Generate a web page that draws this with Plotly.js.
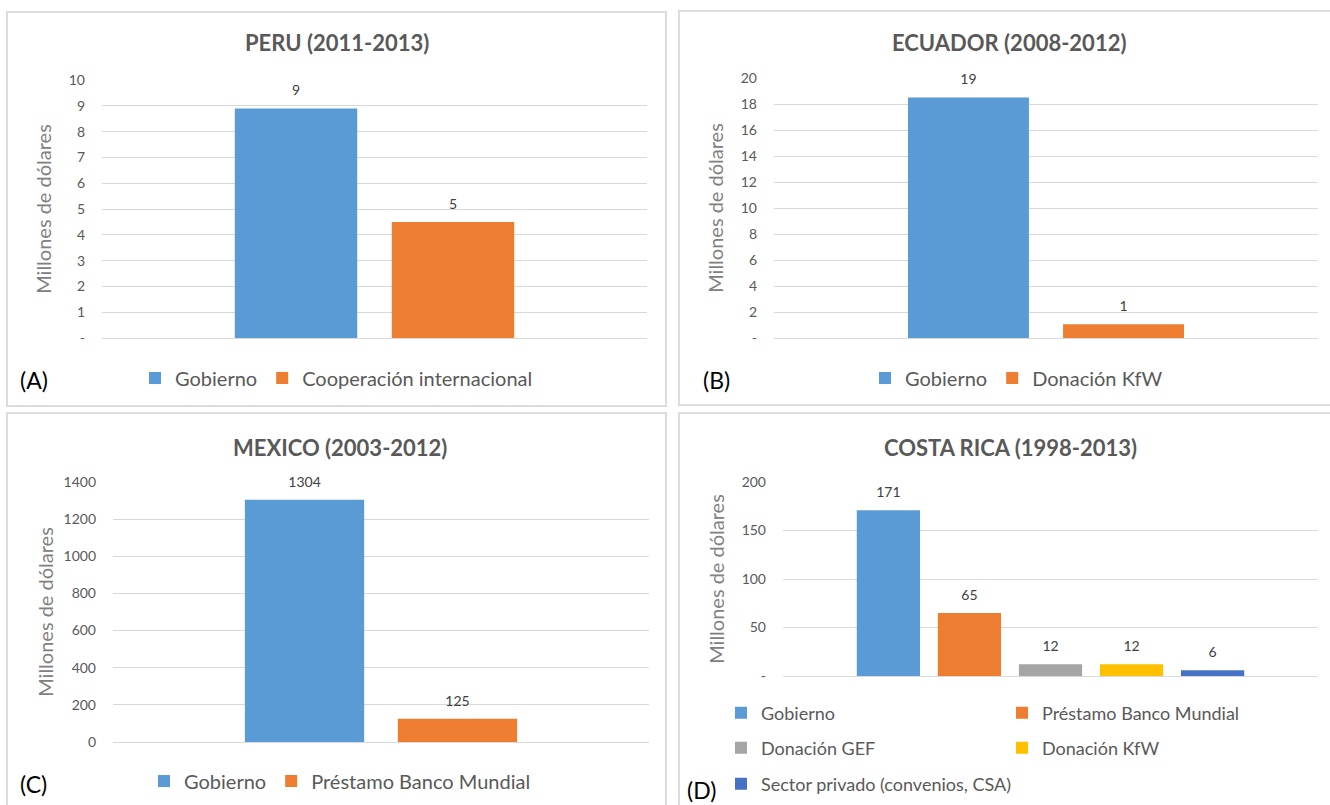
<!DOCTYPE html>
<html>
<head>
<meta charset="utf-8">
<script src="https://cdn.plot.ly/plotly-3.0.1.min.js"></script>
<style>
  html, body { margin: 0; padding: 0; background: #ffffff; }
  #chart { width: 1330px; height: 805px; }
</style>
</head>
<body>
<div id="chart"></div>
<script>
// ---------- DATA ----------
const peruTitle = "PERU (2011-2013)";
const peruSeries = ["Gobierno", "Cooperación internacional"];
const peruValues = [8.9, 4.5];
const peruTickVals = [0, 1, 2, 3, 4, 5, 6, 7, 8, 9, 10];
const peruTickText = ["-", "1", "2", "3", "4", "5", "6", "7", "8", "9", "10"];

const ecuadorTitle = "ECUADOR (2008-2012)";
const ecuadorSeries = ["Gobierno", "Donación KfW"];
const ecuadorValues = [18.5, 1.05];
const ecuadorTickVals = [0, 2, 4, 6, 8, 10, 12, 14, 16, 18, 20];
const ecuadorTickText = ["-", "2", "4", "6", "8", "10", "12", "14", "16", "18", "20"];

const mexicoTitle = "MEXICO (2003-2012)";
const mexicoSeries = ["Gobierno", "Préstamo Banco Mundial"];
const mexicoValues = [1304, 125];
const mexicoTickVals = [0, 200, 400, 600, 800, 1000, 1200, 1400];
const mexicoTickText = ["0", "200", "400", "600", "800", "1000", "1200", "1400"];

const costaTitle = "COSTA RICA (1998-2013)";
const costaSeries = ["Gobierno", "Préstamo Banco Mundial", "Donación GEF", "Donación KfW", "Sector privado (convenios, CSA)"];
const costaValues = [171, 65, 12, 12, 6];
const costaTickVals = [0, 50, 100, 150, 200];
const costaTickText = ["-", "50", "100", "150", "200"];

const panelLetters = ["(A)", "(B)", "(C)", "(D)"];
const yTitle = "Millones de dólares";
const category = [""];

// ---------- STYLE ----------
const W = 1330, H = 805;
const X = p => p / W;
const Y = p => 1 - p / H;
const colors = {
  "Gobierno": "#5B9BD5",
  "Cooperación internacional": "#ED7D31",
  "Donación KfW": "#ED7D31",
  "Préstamo Banco Mundial": "#ED7D31"
};
const costaColors = ["#5B9BD5", "#ED7D31", "#A5A5A5", "#FFC000", "#4472C4"];
const FONT = "Lato, 'Open Sans', sans-serif";

function barTraces(series, values, axisId, legendIds, colorList) {
  return series.map((name, i) => ({
    type: "bar",
    name: name,
    x: category,
    y: [values[i]],
    xaxis: "x" + axisId,
    yaxis: "y" + axisId,
    legend: legendIds[i],
    marker: { color: colorList ? colorList[i] : colors[name] },
    texttemplate: "<span style='font-size:14px'>%{y:.0f}</span><br> ",
    textposition: "outside",
    cliponaxis: false,
    textfont: { family: FONT, size: 7, color: "#404040" },
    hoverinfo: "skip"
  }));
}

const data = [].concat(
  barTraces(peruSeries, peruValues, "", ["legend", "legend"]),
  barTraces(ecuadorSeries, ecuadorValues, "2", ["legend2", "legend2"]),
  barTraces(mexicoSeries, mexicoValues, "3", ["legend3", "legend3"]),
  barTraces(costaSeries, costaValues, "4", ["legend4", "legend5", "legend6", "legend7", "legend8"], costaColors)
);

function xAx(domain, half, anchor) {
  return {
    domain: domain, range: [-half, half], type: "category", anchor: anchor,
    showticklabels: false, showgrid: false, zeroline: false, showline: false,
    fixedrange: true
  };
}
function yAx(domain, range, vals, text, anchor, standoff) {
  return {
    domain: domain, range: range, tickmode: "array", tickvals: vals, ticktext: text,
    anchor: anchor,
    showgrid: true, gridcolor: "#D9D9D9", gridwidth: 1,
    zeroline: true, zerolinecolor: "#D9D9D9", zerolinewidth: 1,
    showline: false, ticks: "",
    ticklabelstandoff: 16,
    tickfont: { family: FONT, size: 14, color: "#595959" },
    title: { text: yTitle, font: { family: FONT, size: 20, color: "#808080" }, standoff: standoff },
    fixedrange: true
  };
}
function leg(xp, yp, size) {
  return {
    x: X(xp), y: Y(yp), xanchor: "left", yanchor: "middle",
    orientation: "h", bgcolor: "rgba(0,0,0,0)", borderwidth: 0,
    font: { family: FONT, size: size || 20, color: "#595959" },
    itemclick: false, itemdoubleclick: false
  };
}

const border = (x0, y0, x1, y1) => ({
  type: "rect", xref: "paper", yref: "paper",
  x0: X(x0), x1: X(x1), y0: Y(y0), y1: Y(y1),
  line: { color: "#DCDCDC", width: 2 }, fillcolor: "rgba(0,0,0,0)", layer: "below"
});

const titleAnn = (text, xp, yp) => ({
  text: "<b>" + text + "</b>", xref: "paper", yref: "paper", x: X(xp), y: Y(yp),
  xanchor: "center", yanchor: "middle", showarrow: false,
  font: { family: FONT, size: 22, color: "#595959" }
});
const letterAnn = (text, xp, yp) => ({
  text: text, xref: "paper", yref: "paper", x: X(xp), y: Y(yp),
  xanchor: "left", yanchor: "middle", showarrow: false,
  font: { family: FONT, size: 23, color: "#000000" }
});

const layout = {
  width: W, height: H,
  margin: { l: 0, r: 0, t: 0, b: 0 },
  paper_bgcolor: "#ffffff", plot_bgcolor: "rgba(0,0,0,0)",
  barmode: "group", bargap: 0, bargroupgap: 0.22,
  showlegend: true,
  xaxis: xAx([X(102), X(647)], 0.868, "y"),
  yaxis: yAx([Y(338), Y(80)], [0, 10], peruTickVals, peruTickText, "x", 11),
  xaxis2: xAx([X(774), X(1318)], 0.877, "y2"),
  yaxis2: yAx([Y(338), Y(78)], [0, 20], ecuadorTickVals, ecuadorTickText, "x2", 11),
  xaxis3: xAx([X(113), X(649)], 0.876, "y3"),
  yaxis3: yAx([Y(742), Y(482)], [0, 1400], mexicoTickVals, mexicoTickText, "x3", 4),
  xaxis4: xAx([X(783), X(1318)], 0.66, "y4"),
  yaxis4: yAx([Y(676), Y(482)], [0, 200], costaTickVals, costaTickText, "x4", 11),
  legend: leg(135, 378),
  legend2: leg(865, 378),
  legend3: leg(144, 781),
  legend4: leg(721, 713, 18),
  legend5: leg(1002, 713, 18),
  legend6: leg(721, 748, 18),
  legend7: leg(1002, 748, 18),
  legend8: leg(721, 784, 18),
  shapes: [
    border(7, 12, 666, 406),
    border(679, 11, 1340, 405),
    border(7, 413, 666, 815),
    border(679, 413, 1340, 815)
  ],
  annotations: [
    titleAnn(peruTitle, 337, 43),
    titleAnn(ecuadorTitle, 1009, 42),
    titleAnn(mexicoTitle, 340, 447),
    titleAnn(costaTitle, 1010, 447),
    letterAnn(panelLetters[0], 18, 380),
    letterAnn(panelLetters[1], 701, 380),
    letterAnn(panelLetters[2], 18, 784),
    letterAnn(panelLetters[3], 685, 790)
  ]
};

Plotly.newPlot("chart", data, layout, { displayModeBar: false });
</script>
</body>
</html>
